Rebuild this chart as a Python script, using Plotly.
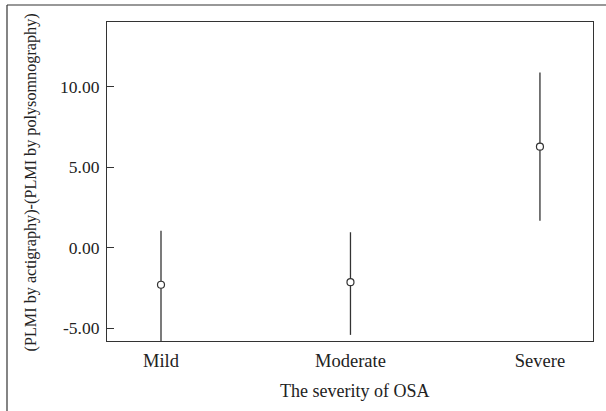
import plotly.graph_objects as go

categories = ["Mild", "Moderate", "Severe"]
means = [-2.31, -2.15, 6.26]
upper = [1.05, 0.95, 10.87]
lower = [-6.3, -5.42, 1.67]
y_ticks = [-5, 0, 5, 10]
y_tick_labels = ["-5.00", "0.00", "5.00", "10.00"]

err_plus = [u - m for u, m in zip(upper, means)]
err_minus = [m - l for m, l in zip(means, lower)]

FONT = "Liberation Serif, Times New Roman, serif"
DARK = "#333333"

fig = go.Figure()
fig.add_trace(go.Scatter(
    x=categories, y=means, mode="markers",
    marker=dict(symbol="circle", size=7, color="white",
                line=dict(color=DARK, width=1.2)),
    error_y=dict(type="data", symmetric=False, array=err_plus,
                 arrayminus=err_minus, width=0, thickness=1.3, color=DARK),
    showlegend=False,
))

fig.update_layout(
    width=606, height=411,
    margin=dict(l=107, r=13, t=22, b=70),
    paper_bgcolor="white", plot_bgcolor="white",
    font=dict(family=FONT, size=17, color="#222222"),
    xaxis=dict(
        type="category", range=[-0.285, 2.28],
        showgrid=False, zeroline=False,
        showline=True, linecolor=DARK, linewidth=1.2, mirror=True,
        ticks="", ticklabelstandoff=3,
        tickfont=dict(family=FONT, size=18.5),
    ),
    yaxis=dict(
        range=[-5.8, 14], tickvals=y_ticks, ticktext=y_tick_labels,
        showgrid=False, zeroline=False,
        showline=True, linecolor=DARK, linewidth=1.2, mirror=True,
        ticks="inside", ticklen=7, tickcolor=DARK, tickwidth=1,
        ticklabelstandoff=3,
        tickfont=dict(family=FONT, size=17.5),
    ),
    annotations=[
        dict(text="(PLMI by actigraphy)-(PLMI by polysomnography)",
             xref="paper", yref="paper", x=(31 - 107) / 486, y=0.497,
             xanchor="center", yanchor="middle", textangle=-90,
             showarrow=False, font=dict(family=FONT, size=16.2, color="#222222")),
        dict(text="The severity of OSA",
             xref="paper", yref="paper", x=(354 - 107) / 486, y=(341 - 391) / 319,
             xanchor="center", yanchor="middle",
             showarrow=False, font=dict(family=FONT, size=18, color="#222222")),
    ],
    shapes=[
        dict(type="line", xref="paper", yref="paper",
             x0=(7 - 107) / 486, x1=(620 - 107) / 486,
             y0=(341 - 5) / 319, y1=(341 - 5) / 319,
             line=dict(color=DARK, width=1.2)),
        dict(type="line", xref="paper", yref="paper",
             x0=(7 - 107) / 486, x1=(7 - 107) / 486,
             y0=(341 - 5) / 319, y1=(341 - 420) / 319,
             line=dict(color=DARK, width=1.2)),
    ],
)

fig.write_html("out.html")
